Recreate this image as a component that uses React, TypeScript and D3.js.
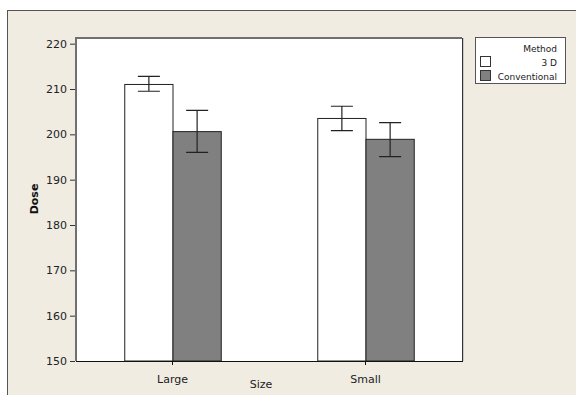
import React, { useRef, useEffect } from 'react';
import * as d3 from 'd3';

const sizes = ['Large', 'Small'];
const methods = ['3 D', 'Conventional'];
const means = [
  [211.0, 200.6],
  [203.5, 198.9],
];
const errLow = [
  [209.5, 196.0],
  [200.8, 195.1],
];
const errHigh = [
  [212.8, 205.3],
  [206.2, 202.6],
];
const yTicks = [150, 160, 170, 180, 190, 200, 210, 220];
const fills = ['#ffffff', '#808080'];

const FONT = '"DejaVu Sans", Verdana, sans-serif';

const App = () => {
  const svgRef = useRef<SVGSVGElement>(null);

  useEffect(() => {
    const width = 576;
    const height = 395;
    const plot = { left: 76, top: 38, right: 462, bottom: 361 };

    const svg = d3.select(svgRef.current)
      .attr('width', width)
      .attr('height', height)
      .style('display', 'block');

    svg.selectAll('*').remove();

    // background + outer frame
    svg.append('rect').attr('width', width).attr('height', height).attr('fill', '#ffffff');
    svg.append('rect')
      .attr('x', 7.5).attr('y', 10.5)
      .attr('width', width).attr('height', height)
      .attr('fill', '#f0ece2')
      .attr('stroke', '#555555');

    const x = d3.scaleBand()
      .domain(sizes)
      .range([plot.left, plot.right])
      .padding(0);

    const inner = d3.scaleBand()
      .domain(methods)
      .range([0, x.bandwidth() * 0.5])
      .padding(0);

    const y = d3.scaleLinear()
      .domain([150, 221.25])
      .range([plot.bottom, plot.top]);

    // plot area
    svg.append('rect')
      .attr('x', plot.left).attr('y', plot.top)
      .attr('width', plot.right - plot.left)
      .attr('height', plot.bottom - plot.top)
      .attr('fill', '#ffffff');
    svg.append('line')
      .attr('x1', plot.right + 1.5).attr('x2', plot.right + 1.5)
      .attr('y1', plot.top).attr('y2', plot.bottom)
      .attr('stroke', '#c8c8c8');
    svg.append('path')
      .attr('d', `M${plot.left},${plot.bottom}V${plot.top}H${plot.right}`)
      .attr('fill', 'none')
      .attr('stroke', '#707070')
      .attr('stroke-width', 2);
    svg.append('line')
      .attr('x1', plot.right + 0.5).attr('x2', plot.right + 0.5)
      .attr('y1', plot.top).attr('y2', plot.bottom)
      .attr('stroke', '#333333');

    // bars
    const groups = svg.selectAll('.size-group')
      .data(sizes)
      .enter()
      .append('g')
      .attr('transform', d => `translate(${x(d)! + x.bandwidth() * 0.25},0)`);

    groups.each(function (s, i) {
      const g = d3.select(this);
      methods.forEach((m, j) => {
        const bx = inner(m)!;
        const bw = inner.bandwidth();
        g.append('rect')
          .attr('x', bx + 0.5)
          .attr('y', y(means[i][j]))
          .attr('width', bw)
          .attr('height', y(150) - y(means[i][j]))
          .attr('fill', fills[j])
          .attr('stroke', '#222222')
          .attr('stroke-width', 1);
        const cx = bx + bw / 2 + 0.5;
        const cap = 11;
        g.append('path')
          .attr('d', `M${cx - cap},${y(errHigh[i][j])}H${cx + cap}M${cx},${y(errHigh[i][j])}V${y(errLow[i][j])}M${cx - cap},${y(errLow[i][j])}H${cx + cap}`)
          .attr('fill', 'none')
          .attr('stroke', '#222222')
          .attr('stroke-width', 1.2);
      });
    });

    // y axis
    const yAxis = svg.append('g')
      .attr('transform', `translate(${plot.left - 1},0)`)
      .call(d3.axisLeft(y).tickValues(yTicks).tickSize(5).tickPadding(3));
    yAxis.select('.domain').remove();
    yAxis.selectAll('line').attr('stroke', '#333333');
    yAxis.selectAll('text')
      .attr('font-family', FONT)
      .attr('font-size', 11)
      .attr('fill', '#222222');

    // x axis
    const xAxis = svg.append('g')
      .attr('transform', `translate(0,${plot.bottom})`)
      .call(d3.axisBottom(x).tickSize(4).tickPadding(10));
    xAxis.select('.domain')
      .attr('d', `M${plot.left},0.5H${plot.right + 1}`)
      .attr('stroke', '#111111');
    xAxis.selectAll('line').attr('stroke', '#111111');
    xAxis.selectAll('text')
      .attr('font-family', FONT)
      .attr('font-size', 11)
      .attr('fill', '#222222');

    // axis titles
    svg.append('text')
      .attr('x', 261).attr('y', 388)
      .attr('text-anchor', 'middle')
      .attr('font-family', FONT)
      .attr('font-size', 11)
      .attr('fill', '#222222')
      .text('Size');
    svg.append('text')
      .attr('transform', 'translate(38,199) rotate(-90)')
      .attr('text-anchor', 'middle')
      .attr('font-family', FONT)
      .attr('font-size', 11)
      .attr('font-weight', 'bold')
      .attr('fill', '#111111')
      .text('Dose');

    // legend
    const legend = svg.append('g');
    legend.append('rect')
      .attr('x', 475.5).attr('y', 37.5)
      .attr('width', 90).attr('height', 46)
      .attr('fill', '#ffffff')
      .attr('stroke', '#555555');
    legend.append('text')
      .attr('x', 557).attr('y', 52)
      .attr('text-anchor', 'end')
      .attr('font-family', FONT)
      .attr('font-size', 9)
      .attr('fill', '#222222')
      .text('Method');
    methods.forEach((m, j) => {
      legend.append('rect')
        .attr('x', 480.5).attr('y', 56.5 + j * 14)
        .attr('width', 10).attr('height', 10)
        .attr('fill', fills[j])
        .attr('stroke', '#333333');
      legend.append('text')
        .attr('x', 557).attr('y', 66 + j * 14)
        .attr('text-anchor', 'end')
        .attr('font-family', FONT)
        .attr('font-size', 9)
        .attr('fill', '#222222')
        .text(m);
    });
  }, []);

  return <svg ref={svgRef} style={{ position: 'absolute', left: 0, top: 0 }}></svg>;
};

export default App;
